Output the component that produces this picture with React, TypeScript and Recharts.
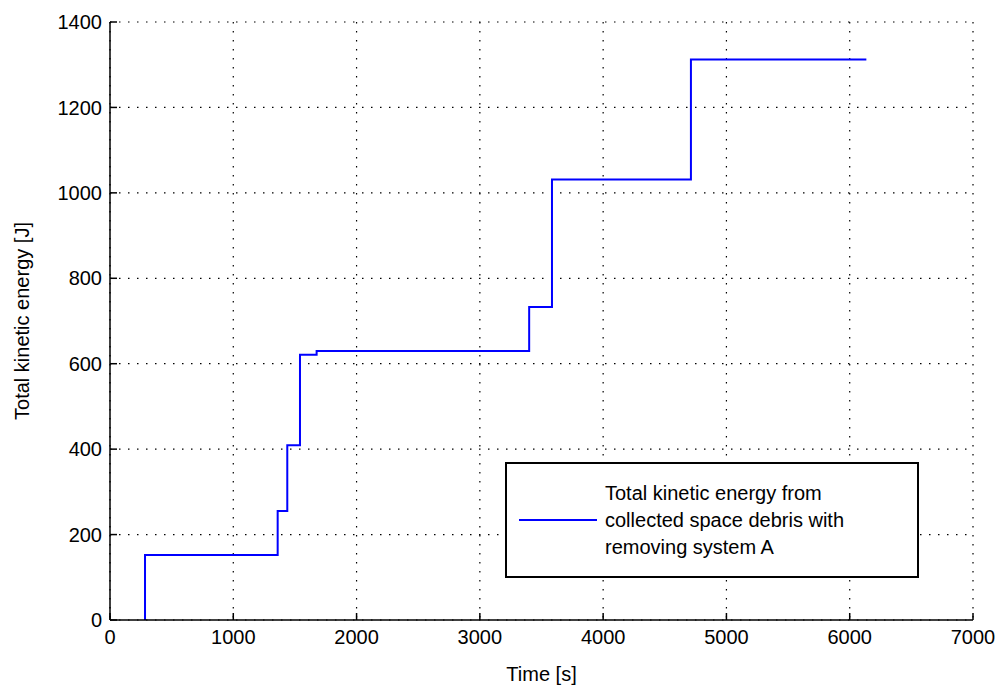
import React from 'react';
import { LineChart, Line, XAxis, YAxis, CartesianGrid } from 'recharts';

const times = [284, 284, 1360, 1438, 1541, 1676, 3400, 3585, 4712, 6135];
const energies = [0, 152, 255, 409, 621, 630, 733, 1031, 1312, 1312];
const xTicks = [0, 1000, 2000, 3000, 4000, 5000, 6000, 7000];
const yTicks = [0, 200, 400, 600, 800, 1000, 1200, 1400];
const seriesName = 'Total kinetic energy from collected space debris with removing system A';
const legendLines = ['Total kinetic energy from', 'collected space debris with', 'removing system A'];

const data = times.map((t, i) => ({ t, e: energies[i] }));

const FONT = '"Liberation Sans", Arial, sans-serif';
const tickStyle = { fill: '#000', fontSize: 20, fontFamily: FONT };

const LegendBox = () => (
  <svg width={414} height={116} style={{ display: 'block' }}>
    <rect x={1} y={1} width={412} height={114} fill="#fff" stroke="#000" strokeWidth={2} />
    <line x1={14} x2={92} y1={58} y2={58} stroke="#0000FF" strokeWidth={2} />
    {legendLines.map((s, i) => (
      <text key={i} x={100} y={38 + i * 27} fontSize={20} fontFamily={FONT} fill="#000">
        {s}
      </text>
    ))}
  </svg>
);

export default function App() {
  return (
    <div style={{ position: 'absolute', left: 0, top: 0, width: 1001, height: 691, background: '#fff' }}>
      <LineChart
        width={1001}
        height={691}
        data={data}
        margin={{ top: 22, right: 28, bottom: 7, left: 10 }}
      >
        <CartesianGrid
          xAxisId="b"
          yAxisId="l"
          stroke="#000"
          strokeDasharray="1.5 7.5"
          strokeWidth={1.2}
        />
        <XAxis
          xAxisId="b"
          dataKey="t"
          type="number"
          domain={[0, 7000]}
          ticks={xTicks}
          interval={0}
          height={64}
          tickSize={-7}
          tickMargin={17}
          stroke="#000"
          strokeWidth={1.5}
          tick={tickStyle}
          label={{ value: 'Time [s]', position: 'insideBottom', offset: 3, fill: '#000', fontSize: 20, fontFamily: FONT }}
        />
        <XAxis
          xAxisId="top"
          dataKey="t"
          type="number"
          orientation="top"
          domain={[0, 7000]}
          ticks={xTicks}
          interval={0}
          height={0}
          tickSize={-7}
          tick={false}
          stroke="#000"
          strokeWidth={1.5}
        />
        <YAxis
          yAxisId="l"
          type="number"
          domain={[0, 1400]}
          ticks={yTicks}
          interval={0}
          width={100}
          tickSize={-7}
          tickMargin={15}
          stroke="#000"
          strokeWidth={1.5}
          tick={tickStyle}
          label={{ value: 'Total kinetic energy [J]', angle: -90, position: 'insideLeft', offset: 12, fill: '#000', fontSize: 20, fontFamily: FONT, style: { textAnchor: 'middle' } }}
        />
        <YAxis
          yAxisId="r"
          type="number"
          orientation="right"
          domain={[0, 1400]}
          ticks={yTicks}
          interval={0}
          width={0}
          tickSize={-7}
          tick={false}
          stroke="#000"
          strokeWidth={1.5}
        />
        <Line
          xAxisId="b"
          yAxisId="l"
          type="stepAfter"
          dataKey="e"
          name={seriesName}
          stroke="#0000FF"
          strokeWidth={2}
          dot={false}
          isAnimationActive={false}
        />
      </LineChart>
      <div style={{ position: 'absolute', left: 505, top: 462, width: 414, height: 116 }}>
        <LegendBox />
      </div>
    </div>
  );
}
